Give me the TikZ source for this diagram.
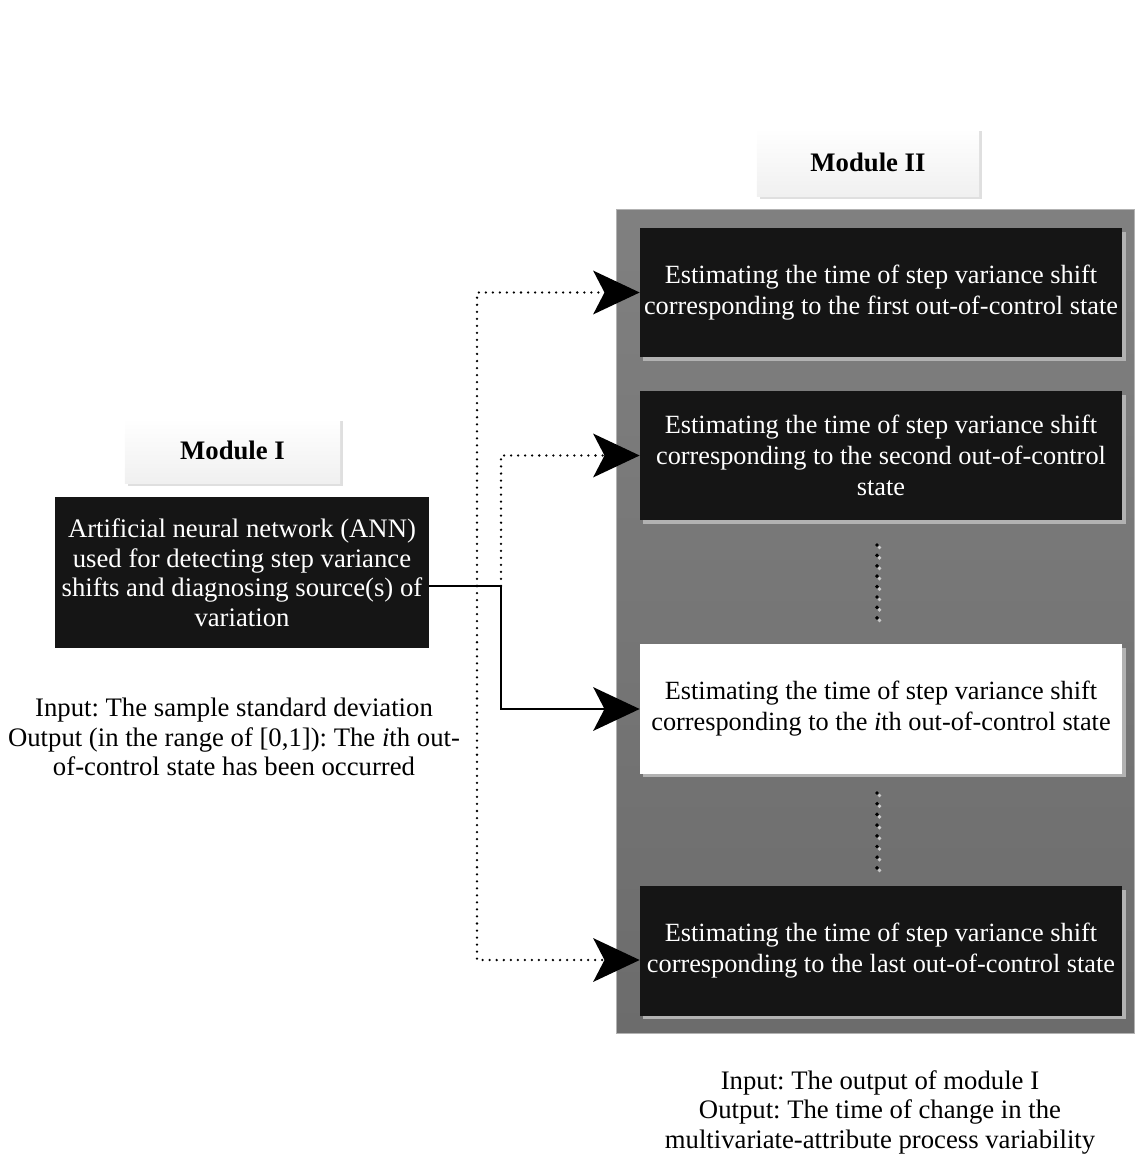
\documentclass[tikz,border=0pt]{standalone}
\usepackage{fontspec}
\setmainfont{Liberation Serif}
\usetikzlibrary{arrows.meta, positioning, calc, shadows}
\definecolor{boxdark}{HTML}{151515}
\definecolor{panelTop}{HTML}{808080}
\definecolor{panelBot}{HTML}{6C6C6C}
\definecolor{tagTop}{HTML}{FFFFFF}
\definecolor{tagBot}{HTML}{F0F0F0}
\frenchspacing

\begin{document}
\begin{tikzpicture}[
    x=0.025cm, y=-0.025cm,
    >={Stealth[length=33pt, width=31pt, inset=8pt]},
    body/.style={font=\fontsize{18.7}{22}\selectfont, align=center},
    stage/.style={body, fill=boxdark, text=white, minimum width=12.05cm, minimum height=3.225cm, inner sep=0pt,
        drop shadow={shadow xshift=2.5pt, shadow yshift=-2.5pt, fill=gray!60, opacity=1}},
    tag/.style={font=\fontsize{19}{22}\selectfont\bfseries, top color=tagTop, bottom color=tagBot, inner sep=0pt,
        drop shadow={shadow xshift=2pt, shadow yshift=-2pt, fill=gray!25, opacity=1}},
    note/.style={font=\fontsize{19}{21}\selectfont, align=center},
    mainlink/.style={->, line width=1.5pt},
    dotlink/.style={->, line width=1.8pt, dash pattern=on 0pt off 5pt, line cap=round},
]
    \useasboundingbox (0,0) rectangle (1134,1165);

    % Module II panel
    \shade[top color=panelTop, bottom color=panelBot, draw=gray!60] (616,209) rectangle (1134,1033);

    % Labels
    \node[tag, minimum width=5.55cm, minimum height=1.7cm] (mod2) at (868,162) {Module II};
    \node[tag, minimum width=5.375cm, minimum height=1.625cm] (mod1) at (232.5,450.5) {Module I};

    % Module I
    \node[body, fill=boxdark, text=white, minimum width=9.35cm, minimum height=3.775cm, inner sep=0pt,
        font=\fontsize{19}{21}\selectfont] (ann) at (242,572.5)
        {Artificial neural network (ANN)\\used for detecting step variance\\shifts and diagnosing source(s) of\\variation};
    \node[note] (annnote) at (234,737)
        {Input: The sample standard deviation\\Output (in the range of [0,1]): The \textit{i}th out-\\of-control state has been occurred};

    % Module II stages
    \node[stage] (box1) at (881,292.5)
        {Estimating the time of step variance shift\\corresponding to the first out-of-control state};
    \node[stage] (box2) at (881,455.5)
        {Estimating the time of step variance shift\\corresponding to the second out-of-control\\state};
    \node[stage, fill=white, text=black] (box3) at (881,709)
        {Estimating the time of step variance shift\\corresponding to the \textit{i}th out-of-control state};
    \node[stage] (box4) at (881,951)
        {Estimating the time of step variance shift\\corresponding to the last out-of-control state};
    \node[note] (outnote) at (880,1112)
        {Input: The output of module I\\Output: The time of change in the\\multivariate-attribute process variability};

    % Vertical dots
    \foreach \k in {0,...,7} {
        \fill[gray!45] (879.5,547.5+\k*10.4) circle (1.4pt);
        \fill[black] (877,545+\k*10.4) circle (1.4pt);
        \fill[gray!45] (879.5,795.5+\k*10.7) circle (1.4pt);
        \fill[black] (877,793+\k*10.7) circle (1.4pt);
    }

    % Connectors
    \coordinate (split) at (501,586);
    \coordinate (bus) at (477,586);
    \draw[mainlink] (ann.east |- split) -- (split) |- (box3);
    \draw[dotlink] (split) |- (box2);
    \draw[dotlink] (bus) |- (box1);
    \draw[dotlink] (bus) |- ($(box4.west)+(0,9)$);
\end{tikzpicture}
\end{document}
